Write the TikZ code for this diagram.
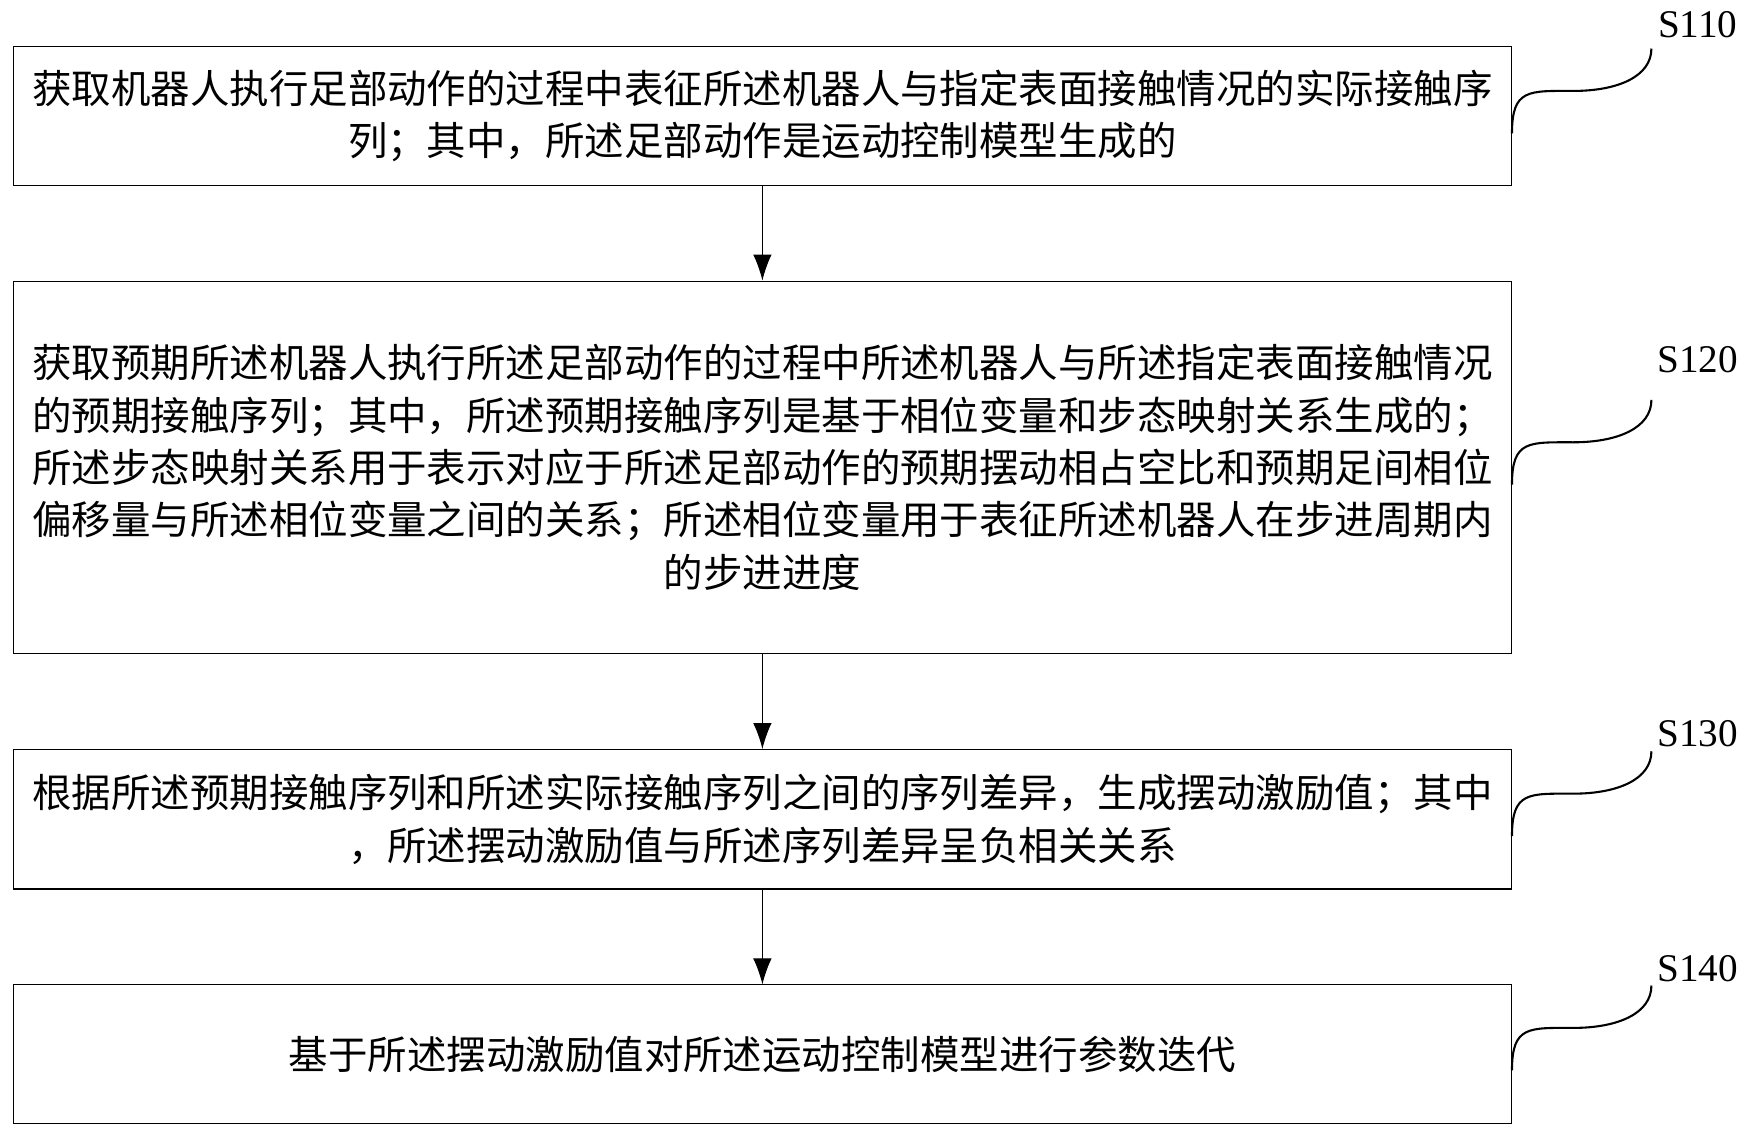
\documentclass[tikz,border=0pt]{standalone}
\usepackage{fontspec}
\setmainfont{Liberation Serif}
\newfontfamily\cjk{Noto Sans CJK SC}
\usetikzlibrary{positioning,arrows.meta,calc}
\tikzset{
  stepbox/.style={draw, line width=0.8pt, minimum width=40.29cm, align=center,
    font=\cjk\fontsize{30.2}{40}\selectfont, inner sep=0pt},
  tag/.style={font=\fontsize{30}{36}\selectfont},
  squig/.style={line width=1.6pt}
}
\begin{document}
\begin{tikzpicture}[x=0.03cm, y=-0.03cm, >={Latex[length=7mm,width=5mm]}]
\useasboundingbox (0,0) rectangle (1568,1020);

\node [stepbox, minimum height=3.72cm] (s1) at (683.5,104)
  {获取机器人执行足部动作的过程中表征所述机器人与指定表面接触情况的实际接触序\\列；其中，所述足部动作是运动控制模型生成的};
\node [stepbox, minimum height=10.02cm] (s2) at (683.5,419)
  {获取预期所述机器人执行所述足部动作的过程中所述机器人与所述指定表面接触情况\\的预期接触序列；其中，所述预期接触序列是基于相位变量和步态映射关系生成的；\\所述步态映射关系用于表示对应于所述足部动作的预期摆动相占空比和预期足间相位\\偏移量与所述相位变量之间的关系；所述相位变量用于表征所述机器人在步进周期内\\的步进进度};
\node [stepbox, minimum height=3.75cm] (s3) at (683.5,734.5)
  {根据所述预期接触序列和所述实际接触序列之间的序列差异，生成摆动激励值；其中\\，所述摆动激励值与所述序列差异呈负相关关系};
\node [stepbox, minimum height=3.72cm] (s4) at (683.5,945)
  {基于所述摆动激励值对所述运动控制模型进行参数迭代};

\draw [->, line width=0.9pt] (s1) -- (s2);
\draw [->, line width=0.9pt] (s2) -- (s3);
\draw [->, line width=0.9pt] (s3) -- (s4);

% step labels with curls
\foreach \n/\t/\y/\d in {s1/S110/22/78, s2/S120/322/183, s3/S130/658/78, s4/S140/868/77} {
  \node [tag] (l\n) at (1522,\y) {\t};
  \draw [squig] ($(\n.north east)+(0,\d)$)
    .. controls +(0,-40) and +(-40,0) .. ++(55,-38)
    .. controls +(40,0) and +(0,25) .. ++(70,-38);
}
\end{tikzpicture}
\end{document}
